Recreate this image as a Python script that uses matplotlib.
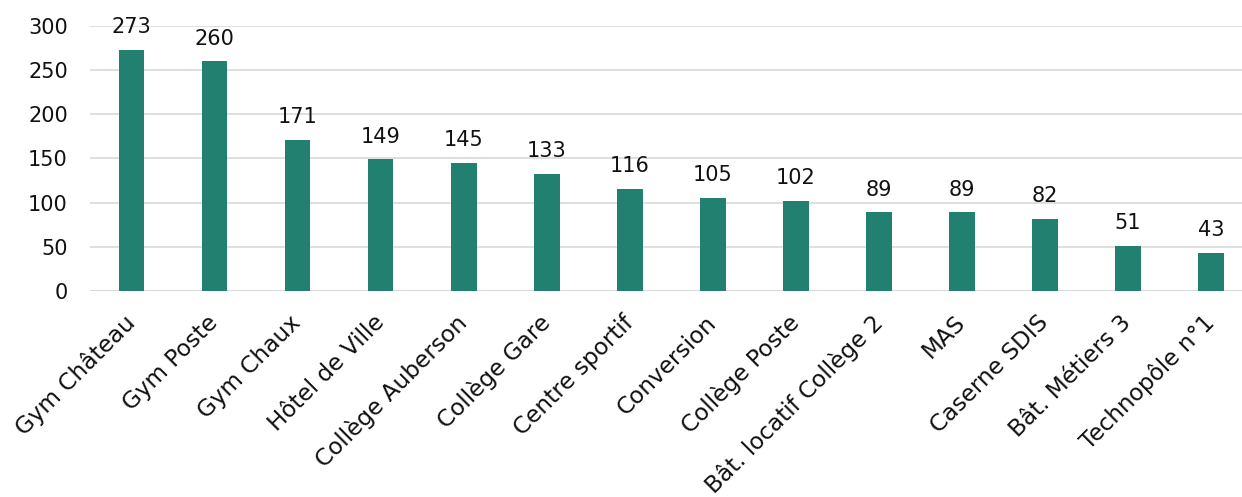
import matplotlib.pyplot as plt
from matplotlib.transforms import ScaledTranslation

categories = ['Gym Château', 'Gym Poste', 'Gym Chaux', 'Hôtel de Ville', 'Collège Auberson',
              'Collège Gare', 'Centre sportif', 'Conversion', 'Collège Poste',
              'Bât. locatif Collège 2', 'MAS', 'Caserne SDIS', 'Bât. Métiers 3', 'Technopôle n°1']
values = [273, 260, 171, 149, 145, 133, 116, 105, 102, 89, 89, 82, 51, 43]
yticks = [0, 50, 100, 150, 200, 250, 300]

plt.rcParams['font.family'] = ['DejaVu Sans']
fs = 15

fig = plt.figure(figsize=(12.42, 4.97), dpi=100)
ax = fig.add_axes([90 / 1242, 206 / 497, 1162.5 / 1242, 265 / 497])

x = range(len(categories))
ax.bar(x, values, width=0.31, color='#228070', zorder=3)
for i, v in zip(x, values):
    ax.text(i, v + 19, str(v), ha='center', va='baseline', fontsize=fs, color='#111111')

ax.set_xlim(-0.5, len(categories) - 0.5)
ax.set_ylim(0, 300)
ax.set_yticks(yticks)
ax.set_yticklabels([str(t) for t in yticks], fontsize=fs, color='#111111')
ax.set_xticks(list(x))
ax.set_xticklabels([])

# rotated category labels, anchored at their top-right corner
off = ScaledTranslation(-8 / 100, -20 / 100, fig.dpi_scale_trans)
for i, name in zip(x, categories):
    ax.text(i, 0, name, rotation=45, ha='right', va='top', rotation_mode='anchor',
            fontsize=16.7, color='#111111', transform=ax.get_xaxis_transform() + off)

ax.tick_params(axis='both', length=0)
ax.tick_params(axis='y', pad=16)
ax.grid(axis='y', color='#d9d9d9', linewidth=1.2, zorder=0)
ax.set_axisbelow(True)
for s in ax.spines.values():
    s.set_visible(False)
ax.axhline(0, color='#d9d9d9', linewidth=1.5, zorder=2)

fig.savefig('out.png', dpi=100)
